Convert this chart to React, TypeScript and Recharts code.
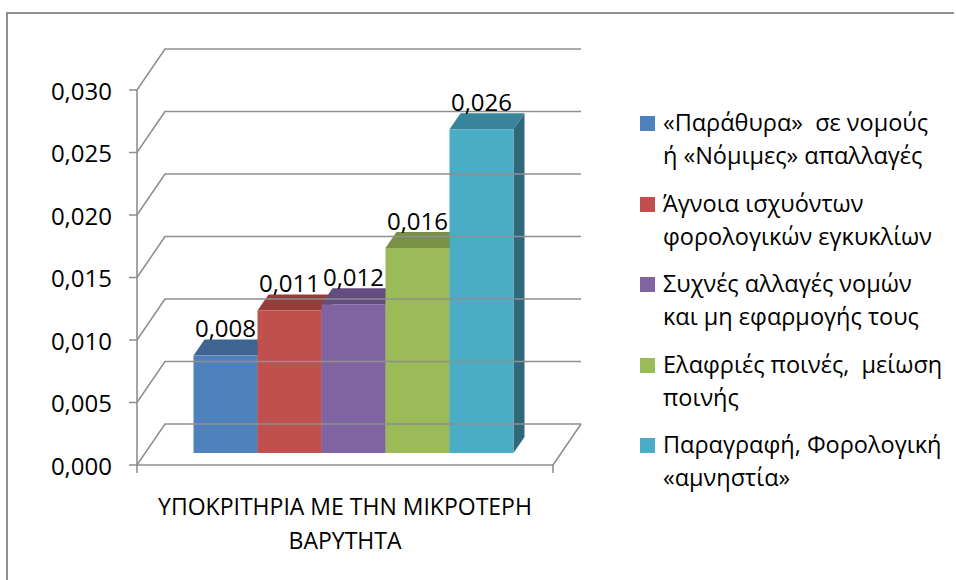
import { BarChart, Bar, XAxis, YAxis, Legend, LabelList } from 'recharts';

const FONT = '"Open Sans", sans-serif';
const GRID = '#8f8f8f';

const categories = ['ΥΠΟΚΡΙΤΗΡΙΑ ΜΕ ΤΗΝ ΜΙΚΡΟΤΕΡΗ ΒΑΡΥΤΗΤΑ'];
const categoryLines = ['ΥΠΟΚΡΙΤΗΡΙΑ ΜΕ ΤΗΝ ΜΙΚΡΟΤΕΡΗ', 'ΒΑΡΥΤΗΤΑ'];
const yTicks = [0, 0.005, 0.01, 0.015, 0.02, 0.025, 0.03];

const seriesNames = [
  '«Παράθυρα»  σε νομούς\nή «Νόμιμες» απαλλαγές',
  'Άγνοια ισχυόντων\nφορολογικών εγκυκλίων',
  'Συχνές αλλαγές νομών\nκαι μη εφαρμογής τους',
  'Ελαφριές ποινές,  μείωση\nποινής',
  'Παραγραφή, Φορολογική\n«αμνηστία»',
];
const seriesValues = [0.0078, 0.0114, 0.0119, 0.0164, 0.0259];
const frontColors = ['#4f81bd', '#c0504d', '#8064a2', '#9bbb59', '#4bacc6'];
const topColors = ['#3e6491', '#953d3b', '#634d7e', '#799146', '#38859b'];
const sideColors = ['#2f4b6e', '#712e2c', '#4b3a5f', '#5b6d35', '#2f687a'];

// one row with a key per series
const rows = categories.map((name) => {
  const row: Record<string, any> = { name };
  seriesValues.forEach((v, i) => (row[`s${i}`] = v));
  return row;
});

const fmt = (v: number) => v.toFixed(3).replace('.', ',');

// fake 3D: wall depth and bar depth
const WALL_DX = 28;
const WALL_DY = 41;
const PLOT_W = 416;
const BAR_SHIFT_X = 8.5;
const BAR_SHIFT_Y = 12;
const BAR_DX = 11;
const BAR_DY = 16;

function Bar3D(props: any) {
  const { width, height, fill, top, side } = props;
  const x = props.x + BAR_SHIFT_X;
  const y = props.y - BAR_SHIFT_Y;
  const r = x + width;
  const b = y + height;
  return (
    <g>
      <path d={`M${x},${y}L${x + BAR_DX},${y - BAR_DY}H${r + BAR_DX}L${r},${y}Z`} fill={top} />
      <path d={`M${r},${y}L${r + BAR_DX},${y - BAR_DY}V${b - BAR_DY}L${r},${b}Z`} fill={side} />
      <rect x={x} y={y} width={width} height={height} fill={fill} />
    </g>
  );
}

function BarValue(props: any) {
  const { x, y, width, value } = props;
  return (
    <text
      x={x + BAR_SHIFT_X + width / 2}
      y={y - BAR_SHIFT_Y - 28}
      textAnchor="middle"
      dominantBaseline="central"
      fontFamily={FONT}
      fontSize={24}
      fill="#000"
    >
      {fmt(value)}
    </text>
  );
}

function WallTick(props: any) {
  const { x, y, payload } = props;
  const axisX = x + 8;
  return (
    <g>
      <path
        d={`M${axisX - 8},${y}H${axisX}L${axisX + WALL_DX},${y - WALL_DY}H${axisX + WALL_DX + PLOT_W}`}
        fill="none"
        stroke={GRID}
        strokeWidth={1.6}
      />
      <text
        x={axisX - 25}
        y={y}
        textAnchor="end"
        dominantBaseline="central"
        fontFamily={FONT}
        fontSize={24}
        fill="#000"
      >
        {fmt(payload.value)}
      </text>
    </g>
  );
}

function FloorTick(props: any) {
  const { x, y } = props;
  const left = x - PLOT_W / 2;
  const right = x + PLOT_W / 2;
  const base = y - 8;
  return (
    <g>
      <path d={`M${left},${base}V${base + 8}`} stroke={GRID} strokeWidth={1.6} fill="none" />
      <path
        d={`M${right},${base + 8}V${base}L${right + WALL_DX},${base - WALL_DY}`}
        stroke={GRID}
        strokeWidth={1.6}
        fill="none"
      />
      {categoryLines.map((line, i) => (
        <text
          key={line}
          x={x}
          y={base + 41 + i * 34}
          textAnchor="middle"
          dominantBaseline="central"
          fontFamily={FONT}
          fontSize={23}
          fill="#000"
        >
          {line}
        </text>
      ))}
    </g>
  );
}

function LegendBox({ payload }: any) {
  return (
    <div style={{ width: 316, fontFamily: FONT, fontSize: 23.5, lineHeight: '33px', color: '#000' }}>
      {(payload || []).map((item: any) => (
        <div key={item.value} style={{ position: 'relative', height: 80.5, paddingLeft: 23 }}>
          <span
            style={{ position: 'absolute', left: 0, top: 10, width: 15, height: 15, background: item.color }}
          />
          {String(item.value)
            .split('\n')
            .map((line) => (
              <div key={line} style={{ whiteSpace: 'pre' }}>
                {line}
              </div>
            ))}
        </div>
      ))}
    </div>
  );
}

export default function App() {
  return (
    <div style={{ position: 'absolute', left: 0, top: 0, width: 956, height: 580, background: '#fff' }}>
      <div
        style={{
          position: 'absolute',
          left: 6,
          top: 12,
          width: 946,
          height: 568,
          borderLeft: `2.5px solid ${GRID}`,
          borderTop: `2px solid ${GRID}`,
        }}
      />
      <BarChart
        width={956}
        height={580}
        data={rows}
        barSize={64}
        barGap={0}
        margin={{ top: 90, right: 87, bottom: 0, left: 0 }}
        style={{ position: 'absolute', left: 0, top: 0 }}
      >
        <YAxis
          type="number"
          domain={[0, 0.03]}
          ticks={yTicks}
          width={137}
          interval={0}
          tickLine={false}
          axisLine={{ stroke: GRID, strokeWidth: 1.6 }}
          tick={<WallTick />}
        />
        <XAxis
          dataKey="name"
          height={115}
          interval={0}
          tickLine={false}
          axisLine={{ stroke: GRID, strokeWidth: 1.6 }}
          tick={<FloorTick />}
        />
        {seriesNames.map((name, i) => (
          <Bar
            key={name}
            dataKey={`s${i}`}
            name={name}
            fill={frontColors[i]}
            isAnimationActive={false}
            shape={<Bar3D top={topColors[i]} side={sideColors[i]} />}
          >
            <LabelList dataKey={`s${i}`} content={<BarValue />} />
          </Bar>
        ))}
        <Legend
          layout="vertical"
          align="right"
          verticalAlign="top"
          width={316}
          itemSorter={null}
          content={<LegendBox />}
          wrapperStyle={{ left: 640, top: 106, right: 'auto' }}
        />
      </BarChart>
    </div>
  );
}
